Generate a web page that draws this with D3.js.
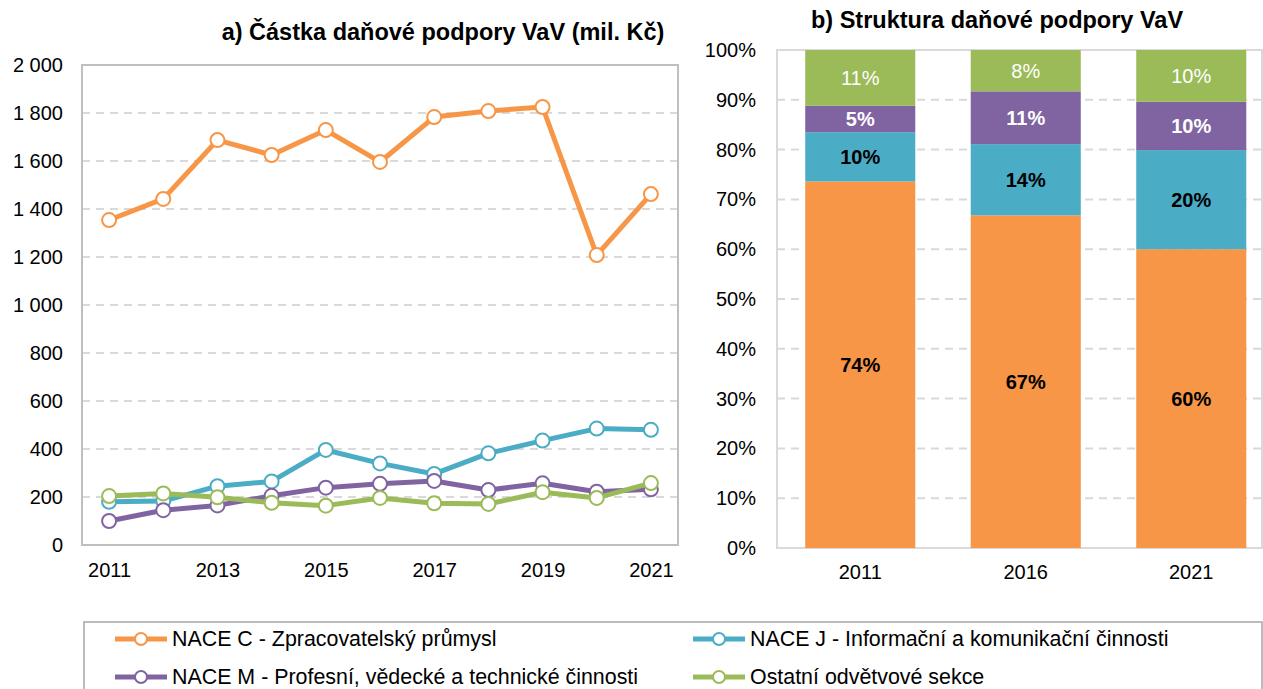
<!DOCTYPE html>
<html><head><meta charset="utf-8">
<script src="https://cdn.jsdelivr.net/npm/d3@7"></script>
<style>body{margin:0;background:#fff}svg{display:block;font-family:"Liberation Sans",Arial,sans-serif}</style>
</head><body><svg id="c" width="1263" height="689"></svg>
<script>
const years = [2011,2012,2013,2014,2015,2016,2017,2018,2019,2020,2021];
const naceC = [1354,1442,1687,1625,1729,1596,1783,1808,1825,1208,1462];
const naceJ = [180,183,245,265,396,340,296,382,435,485,480];
const naceM = [100,145,165,205,239,255,267,229,257,222,232];
const ostatni = [204,215,199,176,164,196,174,171,220,196,258];
const leftTicks = [0,200,400,600,800,1000,1200,1400,1600,1800,2000];
const xTickYears = [2011,2013,2015,2017,2019,2021];

const barYears = ["2011","2016","2021"];
const shareC = [73.6,66.8,60.0];
const shareJ = [9.9,14.3,19.9];
const shareM = [5.3,10.6,9.7];
const shareO = [11.2,8.3,10.4];
const rightTicks = [0,10,20,30,40,50,60,70,80,90,100];

const seriesNames = ["NACE C - Zpracovatelský průmysl","NACE J - Informační a komunikační činnosti","NACE M - Profesní, vědecké a technické činnosti","Ostatní odvětvové sekce"];
const colors = ["#F79646","#4BACC6","#8064A2","#9BBB59"];

const svg = d3.select("#c");
const FS = 20;
const FF = "Liberation Sans, Arial, sans-serif";

// ---------- Left chart ----------
const L = {x0:82,x1:678,y0:65,y1:545};
const xL = d3.scalePoint().domain(years).range([L.x0,L.x1]).padding(0.5);
const yL = d3.scaleLinear().domain([0,2000]).range([L.y1,L.y0]);

svg.append("text").attr("x",443).attr("y",40).attr("text-anchor","middle")
  .attr("font-size",23.5).attr("font-weight","bold").text("a) Částka daňové podpory VaV (mil. Kč)");

const gL = svg.append("g");
gL.selectAll("line.grid").data(leftTicks.filter(t=>t>0&&t<2000)).join("line")
  .attr("x1",L.x0).attr("x2",L.x1).attr("y1",d=>yL(d)).attr("y2",d=>yL(d))
  .attr("stroke","#D9D9D9").attr("stroke-width",2).attr("stroke-dasharray","8,6");
gL.append("rect").attr("x",L.x0).attr("y",L.y0).attr("width",L.x1-L.x0).attr("height",L.y1-L.y0)
  .attr("fill","none").attr("stroke","#BFBFBF").attr("stroke-width",2);

const fmt = d => d3.format(",")(d).replace(/,/g," ");
const yAxisL = d3.axisLeft(yL).tickValues(leftTicks).tickFormat(fmt).tickSize(0).tickPadding(19);
const ya = svg.append("g").attr("transform",`translate(${L.x0},0)`).call(yAxisL);
ya.select(".domain").remove();
ya.selectAll("text").attr("font-size",FS).attr("fill","#000").attr("font-family",FF);

const xAxisL = d3.axisBottom(xL).tickValues(xTickYears).tickSize(0).tickPadding(18);
const xa = svg.append("g").attr("transform",`translate(0,${L.y1})`).call(xAxisL);
xa.select(".domain").remove();
xa.selectAll("text").attr("font-size",FS).attr("fill","#000").attr("font-family",FF);

const allSeries = [naceC,naceJ,naceM,ostatni];
const line = d3.line().x((d,i)=>xL(years[i])).y(d=>yL(d));
allSeries.forEach((vals,si)=>{
  const g = svg.append("g");
  g.append("path").datum(vals).attr("d",line).attr("fill","none")
    .attr("stroke",colors[si]).attr("stroke-width",5).attr("stroke-linejoin","round");
  g.selectAll("circle").data(vals).join("circle")
    .attr("cx",(d,i)=>xL(years[i])).attr("cy",d=>yL(d)).attr("r",7)
    .attr("fill","#fff").attr("stroke",colors[si]).attr("stroke-width",2);
});

// ---------- Right chart ----------
const R = {x0:777,x1:1262,y0:50,y1:548};
const xR = d3.scaleBand().domain(barYears).range([777.5,1274]).paddingInner(0.335).paddingOuter(0.1675);
const yR = d3.scaleLinear().domain([0,100]).range([R.y1,R.y0]);

svg.append("text").attr("x",997).attr("y",28).attr("text-anchor","middle")
  .attr("font-size",23.5).attr("font-weight","bold").text("b) Struktura daňové podpory VaV");

svg.append("g").selectAll("line").data(rightTicks.filter(t=>t>0&&t<100)).join("line")
  .attr("x1",R.x0).attr("x2",R.x1).attr("y1",d=>yR(d)).attr("y2",d=>yR(d))
  .attr("stroke","#D9D9D9").attr("stroke-width",2).attr("stroke-dasharray","8,6");
svg.append("rect").attr("x",R.x0).attr("y",R.y0).attr("width",R.x1-R.x0).attr("height",R.y1-R.y0)
  .attr("fill","none").attr("stroke","#D9D9D9").attr("stroke-width",2);

const shares = [shareC,shareJ,shareM,shareO];
const labelFill = ["#000","#000","#fff","#fff"];
const labelWeight = ["bold","bold","bold","normal"];
barYears.forEach((yr,bi)=>{
  let base = 0;
  shares.forEach((arr,si)=>{
    const v = arr[bi];
    const top = base + v;
    svg.append("rect").attr("x",xR(yr)).attr("width",xR.bandwidth())
      .attr("y",yR(top)).attr("height",yR(base)-yR(top)).attr("fill",colors[si]);
    svg.append("text").attr("x",xR(yr)+xR.bandwidth()/2).attr("y",(yR(base)+yR(top))/2)
      .attr("dy","0.35em").attr("text-anchor","middle").attr("font-size",FS)
      .attr("font-weight",labelWeight[si]).attr("fill",labelFill[si])
      .text(Math.round(v)+"%");
    base = top;
  });
});

const yaR = svg.append("g").attr("transform",`translate(${R.x0},0)`)
  .call(d3.axisLeft(yR).tickValues(rightTicks).tickFormat(d=>d+"%").tickSize(0).tickPadding(21));
yaR.select(".domain").remove();
yaR.selectAll("text").attr("font-size",FS).attr("fill","#000").attr("font-family",FF);
const xaR = svg.append("g").attr("transform",`translate(0,${R.y1})`)
  .call(d3.axisBottom(xR).tickSize(0).tickPadding(17));
xaR.select(".domain").remove();
xaR.selectAll("text").attr("font-size",FS).attr("fill","#000").attr("font-family",FF);

// ---------- Legend ----------
svg.append("rect").attr("x",84).attr("y",622).attr("width",1178).attr("height",80)
  .attr("fill","#fff").attr("stroke","#A6A6A6").attr("stroke-width",1.5);
const legPos = [[115,639],[693,639],[115,677],[693,677]];
seriesNames.forEach((name,i)=>{
  const [lx,ly] = legPos[i];
  const g = svg.append("g");
  g.append("line").attr("x1",lx).attr("x2",lx+52).attr("y1",ly).attr("y2",ly)
    .attr("stroke",colors[i]).attr("stroke-width",5);
  g.append("circle").attr("cx",lx+26).attr("cy",ly).attr("r",6)
    .attr("fill","#fff").attr("stroke",colors[i]).attr("stroke-width",2);
  g.append("text").attr("x",lx+57).attr("y",ly).attr("dy","0.35em").attr("font-size",21.4)
    .attr("fill","#000").text(name);
});
</script></body></html>
